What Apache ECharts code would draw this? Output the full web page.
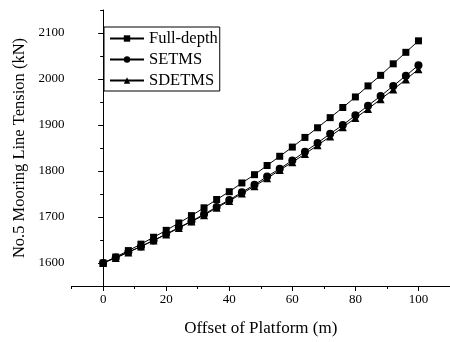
<!DOCTYPE html>
<html>
<head>
<meta charset="utf-8">
<script src="https://cdn.jsdelivr.net/npm/echarts@6/dist/echarts.min.js"></script>
<style>html,body{margin:0;padding:0;background:#fff}#c{width:450px;height:342px}</style>
</head>
<body>
<div id="c"></div>
<script>
const offsets = [0,4,8,12,16,20,24,28,32,36,40,44,48,52,56,60,64,68,72,76,80,84,88,92,96,100];
const fullDepth = [1600,1613,1627,1641,1656,1671,1687,1703,1720,1738,1755,1774,1792,1812,1832,1852,1873,1894,1916,1938,1961,1985,2008,2033,2058,2083];
const setms = [1600,1612,1624,1636,1649,1663,1677,1691,1706,1722,1737,1754,1770,1788,1805,1823,1842,1861,1881,1900,1921,1942,1963,1985,2007,2030];
const sdetms = [1600,1611,1623,1636,1649,1662,1676,1690,1704,1720,1735,1751,1767,1784,1802,1819,1837,1856,1875,1895,1915,1935,1956,1977,1999,2021];
const xMajor = [0,20,40,60,80,100];
const xMinor = [-10,10,30,50,70,90,110];
const yMajor = [1600,1700,1800,1900,2000,2100];
const yMinor = [1550,1650,1750,1850,1950,2050,2150];

const font = '"Liberation Serif","Times New Roman",serif';
const pair = (xs, ys) => xs.map((x, i) => [x, ys[i]]);
const chart = echarts.init(document.getElementById('c'), null, {renderer: 'canvas'});
chart.setOption({
  animation: false,
  backgroundColor: '#fff',
  grid: {left: 71.6, top: 10, width: 380.8, height: 280},
  legend: {
    orient: 'vertical', left: 104, top: 27,
    padding: [3, 2, 2, 5],
    borderColor: '#000', borderWidth: 1,
    itemWidth: 34, itemHeight: 8, itemGap: 4,
    textStyle: {fontFamily: font, fontSize: 16.5, color: '#000', lineHeight: 16},
    data: ['Full-depth', 'SETMS', 'SDETMS']
  },
  xAxis: [{
    type: 'value', min: -10, max: 110,
    axisLine: {lineStyle: {color: '#000', width: 1}},
    axisTick: {customValues: xMajor, length: 5, lineStyle: {color: '#000'}},
    axisLabel: {customValues: xMajor, fontFamily: font, fontSize: 13, color: '#000', margin: 7,
                formatter: v => String(v)},
    splitLine: {show: false},
    name: 'Offset of Platform (m)', nameLocation: 'middle', nameGap: 34,
    nameTextStyle: {fontFamily: font, fontSize: 17, color: '#000'}
  }, {
    type: 'value', min: -10, max: 110, position: 'bottom',
    axisLine: {show: false},
    axisTick: {customValues: xMinor, length: 3, lineStyle: {color: '#000'}},
    axisLabel: {show: false}, splitLine: {show: false}
  }],
  yAxis: [{
    type: 'value', min: 1550, max: 2150,
    axisLine: {show: true, lineStyle: {color: '#000', width: 1}},
    axisTick: {show: true, customValues: yMajor, length: 5, lineStyle: {color: '#000'}},
    axisLabel: {customValues: yMajor, fontFamily: font, fontSize: 13, color: '#000', margin: 7,
                formatter: v => String(v)},
    splitLine: {show: false},
    name: 'No.5 Mooring Line Tension (kN)', nameLocation: 'middle', nameGap: 41,
    nameTextStyle: {fontFamily: font, fontSize: 16.5, color: '#000'}
  }, {
    type: 'value', min: 1550, max: 2150, position: 'left',
    axisLine: {show: false},
    axisTick: {show: true, customValues: yMinor, length: 3, lineStyle: {color: '#000'}},
    axisLabel: {show: false}, splitLine: {show: false}
  }],
  series: [
    {name: 'Full-depth', type: 'line', data: pair(offsets, fullDepth), symbol: 'rect', symbolSize: 7,
     lineStyle: {color: '#000', width: 1}, itemStyle: {color: '#000'}, z: 3},
    {name: 'SDETMS', type: 'line', data: pair(offsets, sdetms), symbol: 'triangle', symbolSize: 8,
     lineStyle: {color: '#000', width: 1}, itemStyle: {color: '#000'}, z: 2},
    {name: 'SETMS', type: 'line', data: pair(offsets, setms), symbol: 'circle', symbolSize: 8,
     lineStyle: {color: '#000', width: 1}, itemStyle: {color: '#000'}, z: 4}
  ]
});
</script>
</body>
</html>
